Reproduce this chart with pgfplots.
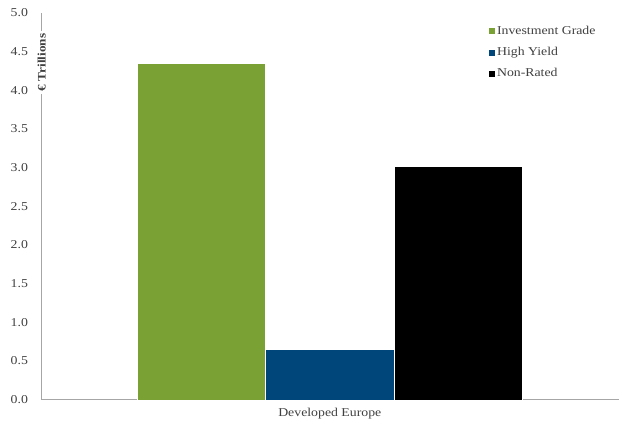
\documentclass[border=0pt]{standalone}
\usepackage{fontspec}
\setmainfont[FakeStretch=1.15]{Liberation Serif}
\usepackage{pgfplots}
\pgfplotsset{compat=1.18}
\definecolor{igreen}{HTML}{7AA133}
\definecolor{hyblue}{HTML}{00467A}
\definecolor{axgray}{HTML}{A6A6A6}
\definecolor{txt}{HTML}{404040}
\begin{document}
\begin{tikzpicture}
\begin{axis}[
  scale only axis, width=578pt, height=387pt,
  xmin=0, xmax=578, ymin=0, ymax=5,
  axis x line*=bottom, axis y line*=left,
  axis line style={-, axgray, line width=0.8pt},
  ytick={0,0.5,...,5},
  yticklabel style={/pgf/number format/fixed, /pgf/number format/precision=1, /pgf/number format/fixed zerofill, /pgf/number format/assume math mode=true, font=\fontsize{12}{14}\selectfont, text=txt, xshift=-9.5pt},
  xtick={289}, xticklabels={Developed Europe},
  xticklabel style={font=\fontsize{12}{14}\selectfont, text=txt, yshift=-5pt},
  major tick length=0pt,
  ybar, bar width=128.5, bar shift=0pt,
  clip=false,
  legend style={at={(rel axis cs:0.773,0.972)}, anchor=north west, draw=none, fill=none,
    font=\fontsize{12}{14}\selectfont, text=txt, row sep=7.5pt, inner sep=0pt,
    /tikz/every odd column/.style={inner xsep=1pt}},
  legend cell align=left,
  legend image code/.code={\fill[#1] (0pt,-3.5pt) rectangle (7pt,3.5pt);},
]
\addplot[fill=igreen, draw=white, line width=0.4pt] coordinates {(160.5,4.35)};
\addplot[fill=hyblue, draw=white, line width=0.4pt] coordinates {(289,0.65)};
\addplot[fill=black, draw=white, line width=0.4pt] coordinates {(417.5,3.02)};
\legend{Investment Grade, High Yield, Non-Rated}
\node[rotate=90, fill=white, inner xsep=3pt, inner ysep=1pt, text=txt, font=\bfseries\fontsize{11.5}{13}\selectfont] at ([xshift=0.7pt]rel axis cs:0,0.872) {€ Trillions};
\path ([shift={(-41pt,-28pt)}]rel axis cs:0,0) rectangle ([shift={(0pt,13pt)}]rel axis cs:1,1);
\end{axis}
\end{tikzpicture}
\end{document}
